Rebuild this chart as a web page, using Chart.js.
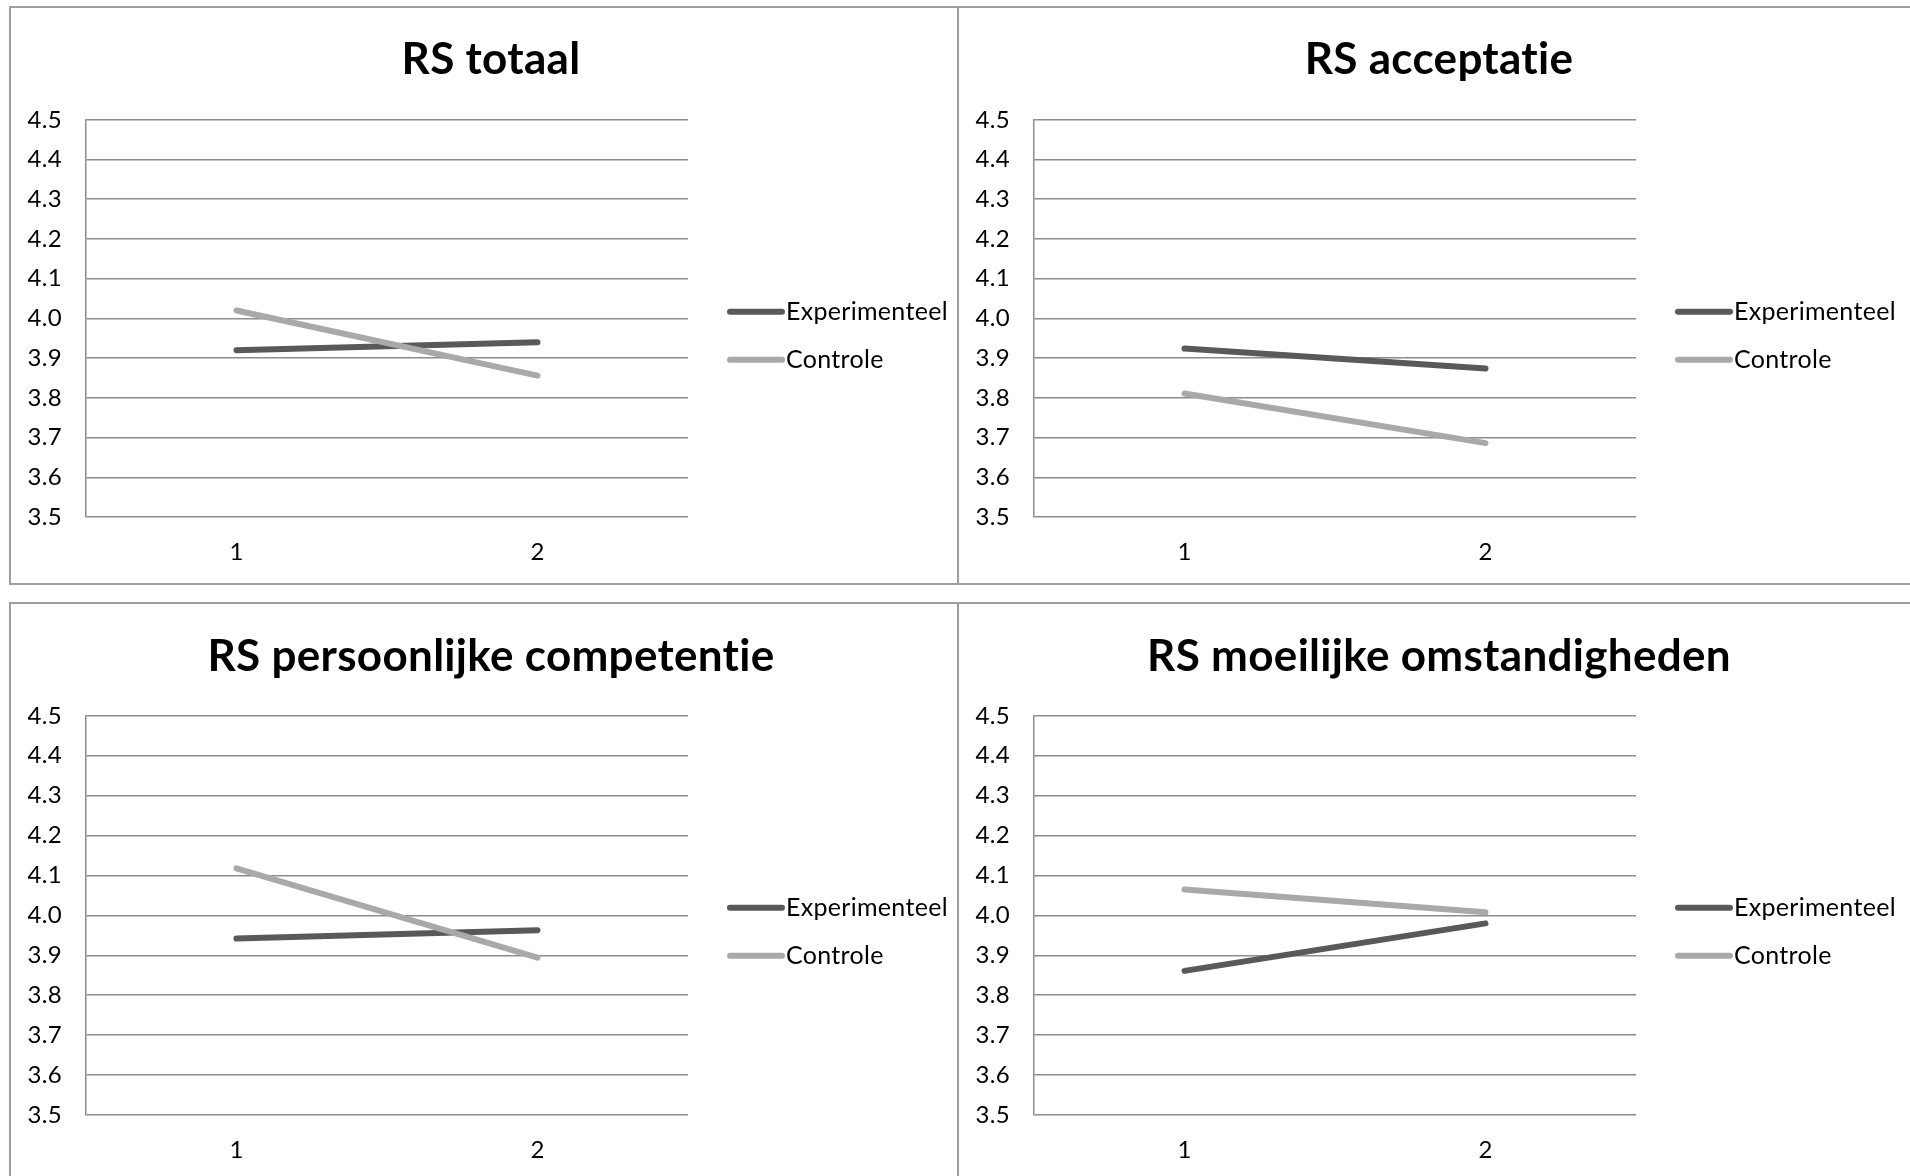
<!DOCTYPE html>
<html lang="nl">
<head>
<meta charset="UTF-8">
<title>RS grafieken</title>
<script src="https://cdn.jsdelivr.net/npm/chart.js@4.4.1/dist/chart.umd.min.js"></script>
<style>
  html, body { margin: 0; padding: 0; background: #fff; }
  #wrap { position: relative; width: 1910px; height: 1176px; overflow: hidden; }
  .frame { position: absolute; box-sizing: border-box; border: 2px solid #9e9e9e; }
  .vline { position: absolute; width: 2px; background: #9e9e9e; }
  .box { position: absolute; }
</style>
</head>
<body>
<div id="wrap">
  <div class="frame" style="left:9px; top:6px; width:1920px; height:579px;"></div>
  <div class="vline" style="left:957px; top:6px; height:579px;"></div>
  <div class="frame" style="left:9px; top:602px; width:1920px; height:600px; border-bottom:none;"></div>
  <div class="vline" style="left:957px; top:602px; height:574px;"></div>

  <div class="box" style="left:11px; top:8px; width:946px; height:575px;"><canvas id="c1"></canvas></div>
  <div class="box" style="left:959px; top:8px; width:951px; height:575px;"><canvas id="c2"></canvas></div>
  <div class="box" style="left:11px; top:604px; width:946px; height:572px;"><canvas id="c3"></canvas></div>
  <div class="box" style="left:959px; top:604px; width:951px; height:572px;"><canvas id="c4"></canvas></div>
</div>
<script>
const categories = ['1', '2'];
const seriesNames = ['Experimenteel', 'Controle'];
const yTicks = [3.5, 3.6, 3.7, 3.8, 3.9, 4.0, 4.1, 4.2, 4.3, 4.4, 4.5];

const titles = ['RS totaal', 'RS acceptatie', 'RS persoonlijke competentie', 'RS moeilijke omstandigheden'];

const totaalExp = [3.92, 3.94];
const totaalCtrl = [4.02, 3.856];
const acceptatieExp = [3.924, 3.874];
const acceptatieCtrl = [3.811, 3.686];
const competentieExp = [3.942, 3.963];
const competentieCtrl = [4.118, 3.894];
const moeilijkExp = [3.861, 3.980];
const moeilijkCtrl = [4.065, 4.008];

const colors = ['#595959', '#a9a9a9'];
const gridColor = '#8c8c8c';

// tiny letter spacing keeps Lato from joining "ti" into a ligature
const noLigatures = {
  id: 'noLigatures',
  beforeLayout(chart) { chart.ctx.letterSpacing = '0.3px'; },
  beforeDraw(chart) { chart.ctx.letterSpacing = '0.3px'; }
};

// legend drawn next to the plot, like the Excel original
const sideLegend = {
  id: 'sideLegend',
  afterDraw(chart) {
    const ctx = chart.ctx;
    const a = chart.chartArea;
    ctx.save();
    chart.data.datasets.forEach((ds, i) => {
      const y = a.top + 192 + i * 48;
      const x0 = a.right + 42;
      ctx.strokeStyle = ds.borderColor;
      ctx.lineWidth = 6;
      ctx.lineCap = 'round';
      ctx.beginPath();
      ctx.moveTo(x0, y);
      ctx.lineTo(x0 + 52, y);
      ctx.stroke();
      ctx.fillStyle = '#000';
      ctx.font = '25px Lato';
      ctx.textBaseline = 'middle';
      ctx.textAlign = 'left';
      ctx.fillText(ds.label, x0 + 56, y);
    });
    ctx.restore();
  }
};

function makeChart(id, title, exp, ctrl, lay) {
  new Chart(document.getElementById(id), {
    type: 'line',
    data: {
      labels: categories,
      datasets: [
        { label: seriesNames[0], data: exp, borderColor: colors[0], backgroundColor: colors[0], order: 1 },
        { label: seriesNames[1], data: ctrl, borderColor: colors[1], backgroundColor: colors[1], order: 0 }
      ]
    },
    options: {
      responsive: true,
      maintainAspectRatio: false,
      animation: false,
      events: [],
      layout: { padding: { left: lay.padLeft, top: 0, right: 0, bottom: 0 } },
      elements: {
        line: { borderWidth: 6, tension: 0, borderCapStyle: 'round', borderJoinStyle: 'round' },
        point: { radius: 0 }
      },
      plugins: {
        legend: { display: false },
        tooltip: { enabled: false },
        title: {
          display: true,
          text: title,
          color: '#000',
          font: { family: 'Lato', size: 44, weight: 'bold', lineHeight: 1.2 },
          padding: { top: lay.titleTop, bottom: lay.titleBottom }
        }
      },
      scales: {
        x: {
          offset: true,
          grid: { display: false, drawTicks: false },
          border: { display: false },
          ticks: { color: '#000', font: { family: 'Lato', size: 24 }, padding: 21 },
          afterFit: s => { s.height = lay.xHeight; }
        },
        y: {
          min: 3.5,
          max: 4.5,
          afterBuildTicks: s => { s.ticks = yTicks.map(v => ({ value: v })); },
          grid: { color: gridColor, lineWidth: 1.5, drawTicks: false },
          border: { display: true, color: gridColor, width: 1.5 },
          ticks: { color: '#000', font: { family: 'Lato', size: 24 }, padding: 24, callback: v => v.toFixed(1) },
          afterFit: s => { s.width = lay.yWidth; }
        },
        legendSpace: {
          position: 'right',
          display: true,
          grid: { display: false, drawTicks: false },
          border: { display: false },
          ticks: { display: false },
          afterFit: s => { s.width = lay.rightWidth; }
        }
      }
    },
    plugins: [noLigatures, sideLegend]
  });
}

const top1 = { padLeft: 14, yWidth: 61, rightWidth: 269, titleTop: 25, titleBottom: 34, xHeight: 66 };
const top2 = { padLeft: 9, yWidth: 66, rightWidth: 274, titleTop: 25, titleBottom: 34, xHeight: 66 };
const bot1 = { padLeft: 14, yWidth: 61, rightWidth: 269, titleTop: 26, titleBottom: 33, xHeight: 61 };
const bot2 = { padLeft: 9, yWidth: 66, rightWidth: 274, titleTop: 26, titleBottom: 33, xHeight: 61 };

makeChart('c1', titles[0], totaalExp, totaalCtrl, top1);
makeChart('c2', titles[1], acceptatieExp, acceptatieCtrl, top2);
makeChart('c3', titles[2], competentieExp, competentieCtrl, bot1);
makeChart('c4', titles[3], moeilijkExp, moeilijkCtrl, bot2);
</script>
</body>
</html>
